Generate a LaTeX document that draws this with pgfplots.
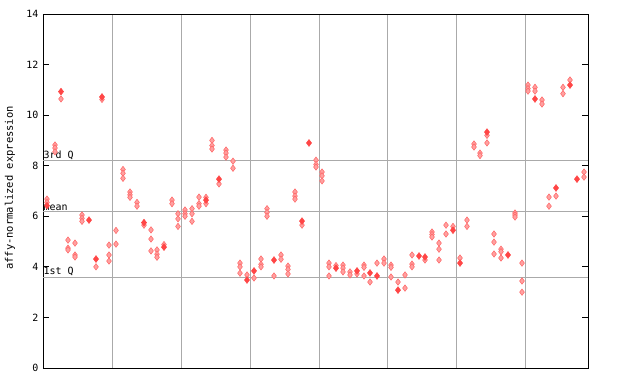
\documentclass[border=0pt]{standalone}
\usepackage{pgfplots}
\pgfplotsset{compat=1.18}
\usepackage{fontspec}
\setmonofont{DejaVu Sans Mono}
\definecolor{hfill}{RGB}{255,160,160}
\definecolor{hdraw}{RGB}{255,100,100}
\definecolor{sred}{RGB}{255,70,70}
\definecolor{gridg}{RGB}{170,170,170}
\begin{document}
\begin{tikzpicture}[x=1bp,y=1bp]
\path[use as bounding box] (-43bp,-16bp) rectangle (597bp,368bp);
\begin{axis}[
  scale only axis, width=545bp, height=354bp,
  xmin=0, xmax=545, ymin=0, ymax=14,
  xtick={69,138,207,276,344,413,482}, xticklabels={},
  xmajorgrids, major x tick style={draw=none},
  x grid style={gridg, line width=0.8bp},
  ytick={0,2,4,6,8,10,12,14},
  ytick pos=both, tick align=inside, major tick length=6bp,
  y tick style={black, line width=0.8bp},
  axis line style={black, line width=0.9bp},
  /pgf/number format/assume math mode=true,
  yticklabel style={font=\ttfamily\fontsize{10}{12}\selectfont, xshift=-1bp},
  clip=false,
]
\addplot[gridg, line width=0.8bp] coordinates {(0,8.22) (545,8.22)};
\addplot[gridg, line width=0.8bp] coordinates {(0,6.21) (545,6.21)};
\addplot[gridg, line width=0.8bp] coordinates {(0,3.6) (545,3.6)};
\node[anchor=south west, inner sep=0.5bp, font=\ttfamily\fontsize{10}{12}\selectfont] at (axis cs:0,8.22) {3rd Q};
\node[anchor=south west, inner sep=0.5bp, font=\ttfamily\fontsize{10}{12}\selectfont] at (axis cs:0,6.21) {mean};
\node[anchor=south west, inner sep=0.5bp, font=\ttfamily\fontsize{10}{12}\selectfont] at (axis cs:0,3.6) {1st Q};
% hatched points
\addplot[only marks, mark=diamond*, mark size=3.2bp, mark options={draw=hdraw, fill=hfill, line width=0.5bp}] coordinates {
(4,6.68)(4,6.55)
(12,8.82)(12,8.7)(12,8.55)
(18,10.64)
(25,5.06)(25,4.74)(25,4.67)
(32,4.94)(32,4.47)(32,4.39)
(39,6.05)(39,5.92)(39,5.8)
(53,4.0)
(59,10.62)
(66,4.86)(66,4.47)(66,4.23)
(73,5.44)(73,4.9)
(80,7.85)(80,7.7)(80,7.5)
(87,6.96)(87,6.85)(87,6.75)
(94,6.55)(94,6.4)
(101,5.65)
(108,5.46)(108,5.1)(108,4.63)
(114,4.67)(114,4.5)(114,4.38)
(121,4.88)
(129,6.64)(129,6.5)
(135,6.1)(135,5.9)(135,5.6)
(142,6.25)(142,6.1)(142,6.0)
(149,6.3)(149,6.1)(149,5.8)
(156,6.76)(156,6.5)(156,6.4)
(163,6.75)(163,6.5)
(169,9.0)(169,8.8)(169,8.66)
(176,7.28)
(183,8.62)(183,8.5)(183,8.34)
(190,8.18)(190,7.9)
(197,4.15)(197,4.0)(197,3.75)
(204,3.68)
(211,3.56)
(218,4.31)(218,4.1)(218,4.0)
(224,6.3)(224,6.15)(224,6.0)
(231,3.64)
(238,4.47)(238,4.3)
(245,4.03)(245,3.9)(245,3.72)
(252,6.96)(252,6.8)(252,6.68)
(259,5.65)
(273,8.22)(273,8.05)(273,7.95)
(279,7.75)(279,7.6)(279,7.4)
(286,4.15)(286,4.0)(286,3.64)
(293,4.05)
(300,4.07)(300,3.95)(300,3.8)
(307,3.8)(307,3.68)
(314,3.72)
(321,4.07)(321,3.98)(321,3.64)
(327,3.4)
(334,4.15)
(341,4.31)(341,4.15)
(348,4.07)(348,3.98)(348,3.6)
(355,3.4)
(362,3.68)(362,3.16)
(369,4.47)(369,4.11)(369,4.0)
(382,4.27)
(389,5.38)(389,5.28)(389,5.18)
(396,4.94)(396,4.7)(396,4.27)
(403,5.65)(403,5.3)
(410,5.6)
(417,4.35)
(424,5.85)(424,5.6)
(431,8.86)(431,8.74)
(437,8.5)(437,8.4)
(444,9.2)(444,8.9)
(451,5.3)(451,4.98)(451,4.51)
(458,4.7)(458,4.6)(458,4.35)
(472,6.13)(472,6.05)(472,5.97)
(479,4.15)(479,3.44)(479,3.0)
(485,11.19)(485,11.05)(485,10.95)
(492,11.1)(492,10.95)
(499,10.6)(499,10.44)
(506,6.76)(506,6.4)
(513,6.8)
(520,11.1)(520,10.85)
(527,11.39)
(541,7.75)(541,7.55)
};
% solid points
\addplot[only marks, mark=diamond*, mark size=3.4bp, mark options={draw=sred, fill=sred, line width=0.5bp}] coordinates {
(4,6.42)
(18,10.93)
(46,5.85)
(53,4.31)
(59,10.72)
(101,5.75)
(121,4.78)
(163,6.64)
(176,7.47)
(204,3.48)
(211,3.84)
(231,4.27)
(259,5.81)
(266,8.9)
(293,3.95)
(314,3.84)
(327,3.76)
(334,3.64)
(355,3.08)
(376,4.43)
(382,4.39)
(410,5.45)
(417,4.15)
(444,9.33)
(465,4.47)
(492,10.64)
(513,7.12)
(527,11.19)
(534,7.47)
};
\end{axis}
\node[rotate=90, font=\ttfamily\fontsize{10.5}{12}\selectfont] at (-33bp,180bp) {affy-normalized expression};
\end{tikzpicture}
\end{document}
